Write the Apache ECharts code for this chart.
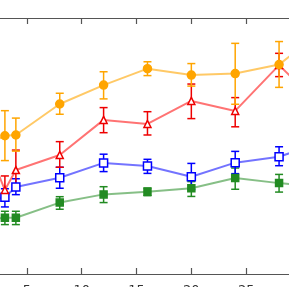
<!DOCTYPE html>
<html>
<head>
<meta charset="utf-8">
<script src="https://cdn.jsdelivr.net/npm/echarts@6/dist/echarts.min.js"></script>
<style>
html,body{margin:0;padding:0;background:#fff;}
#chart{width:289px;height:287px;}
</style>
</head>
<body>
<div id="chart"></div>
<script>
var xValues = [2, 3, 4, 8, 12, 16, 20, 24, 28, 32];

var orangeMean = [52.0, 54.0, 54.3, 66.4, 73.8, 80.2, 77.7, 78.3, 81.8, 95.3];
var orangeLow  = [45.0, 44.3, 48.0, 62.4, 68.4, 77.5, 73.4, 66.3, 72.9, 90.0];
var orangeHigh = [59.0, 63.8, 60.9, 70.6, 79.0, 82.9, 82.2, 90.1, 90.8, 99.0];

var redMean = [43.4, 32.8, 40.6, 46.5, 60.2, 58.6, 67.6, 63.7, 81.6, 64.8];
var redLow  = [38.0, 30.5, 33.6, 41.7, 55.2, 54.3, 60.7, 57.5, 77.1, 58.0];
var redHigh = [49.0, 38.3, 48.4, 51.7, 65.0, 63.4, 74.2, 68.9, 86.2, 71.0];

var blueMean = [29.0, 30.0, 34.0, 37.6, 43.4, 42.2, 38.0, 43.5, 45.8, 51.6];
var blueLow  = [25.0, 26.2, 31.0, 33.5, 40.0, 39.3, 33.0, 39.2, 42.3, 47.0];
var blueHigh = [33.0, 33.3, 37.2, 41.7, 46.8, 44.8, 43.2, 47.9, 49.7, 56.0];

var greenMean = [21.5, 22.0, 22.0, 27.9, 31.1, 32.1, 33.5, 37.5, 35.5, 34.0];
var greenLow  = [19.0, 19.3, 19.3, 25.3, 27.9, 30.6, 30.3, 33.1, 32.0, 31.0];
var greenHigh = [24.0, 24.5, 24.5, 30.2, 34.1, 33.6, 36.1, 41.4, 38.9, 37.0];

var xTickInterval = 5;

function pairs(ys) { return xValues.map(function (x, i) { return [x, ys[i]]; }); }
function triples(lo, hi) { return xValues.map(function (x, i) { return [x, lo[i], hi[i]]; }); }

function errorSeries(lo, hi, color) {
  return {
    type: 'custom',
    z: 1,
    silent: true,
    data: triples(lo, hi),
    renderItem: function (params, api) {
      var x = api.value(0);
      var a = api.coord([x, api.value(1)]);
      var b = api.coord([x, api.value(2)]);
      var w = 4;
      var st = { stroke: color, lineWidth: 1.5 };
      return {
        type: 'group',
        children: [
          { type: 'line', shape: { x1: a[0], y1: a[1], x2: b[0], y2: b[1] }, style: st },
          { type: 'line', shape: { x1: a[0] - w, y1: a[1], x2: a[0] + w, y2: a[1] }, style: st },
          { type: 'line', shape: { x1: b[0] - w, y1: b[1], x2: b[0] + w, y2: b[1] }, style: st }
        ]
      };
    }
  };
}

function lineSeries(ys, lineColor, symbol, size, fill, border) {
  return {
    type: 'line',
    z: 2,
    data: pairs(ys),
    symbol: symbol,
    symbolSize: size,
    showAllSymbol: true,
    lineStyle: { color: lineColor, width: 2 },
    itemStyle: { color: fill, borderColor: border, borderWidth: 1.5, opacity: 1 },
    emphasis: { disabled: true }
  };
}

var chart = echarts.init(document.getElementById('chart'), null, { renderer: 'canvas' });
chart.setOption({
  animation: false,
  backgroundColor: '#ffffff',
  grid: { left: -28, right: -12, top: 18, bottom: 13, containLabel: false, outerBoundsMode: 'none' },
  xAxis: [
    {
      type: 'value', position: 'bottom', min: 0, max: 30, interval: xTickInterval,
      axisLine: { show: true, onZero: false, lineStyle: { color: '#555', width: 1.2 } },
      axisTick: { show: true, inside: true, length: 6, lineStyle: { color: '#555', width: 1.2 } },
      axisLabel: { show: true, margin: 10, fontSize: 13, color: '#333', fontFamily: 'DejaVu Sans' },
      splitLine: { show: false }
    },
    {
      type: 'value', position: 'top', min: 0, max: 30, interval: xTickInterval,
      axisLine: { show: true, onZero: false, lineStyle: { color: '#555', width: 1.2 } },
      axisTick: { show: true, inside: true, length: 6, lineStyle: { color: '#555', width: 1.2 } },
      axisLabel: { show: false },
      splitLine: { show: false }
    }
  ],
  yAxis: { type: 'value', min: 0, max: 100, show: false, splitLine: { show: false } },
  series: [
    errorSeries(greenLow, greenHigh, '#228B22'),
    errorSeries(blueLow, blueHigh, '#0000FF'),
    errorSeries(redLow, redHigh, '#EE0000'),
    errorSeries(orangeLow, orangeHigh, '#FFA500'),
    lineSeries(greenMean, 'rgba(34,139,34,0.55)', 'rect', 7, '#228B22', '#228B22'),
    lineSeries(blueMean, 'rgba(0,0,255,0.55)', 'rect', 8, '#ffffff', '#0000FF'),
    lineSeries(redMean, 'rgba(255,0,0,0.55)', 'triangle', 7, '#ffffff', '#EE0000'),
    lineSeries(orangeMean, 'rgba(255,165,0,0.6)', 'circle', 8, '#FFA500', '#FFA500')
  ]
});
</script>
</body>
</html>
